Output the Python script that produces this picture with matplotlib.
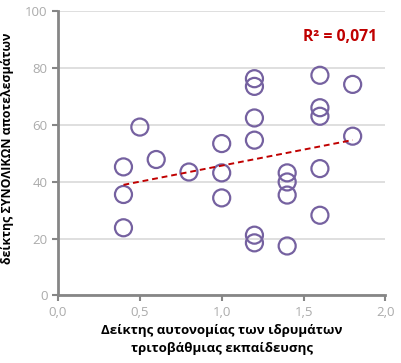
import numpy as np
import matplotlib
matplotlib.use("Agg")
import matplotlib.pyplot as plt

plt.rcParams['font.family'] = ['Open Sans', 'DejaVu Sans']

# autonomy index (x) and overall results index (y)
autonomy = [0.4, 0.4, 0.4, 0.5, 0.6, 0.8, 1.0, 1.0, 1.0,
            1.2, 1.2, 1.2, 1.2, 1.2, 1.2,
            1.4, 1.4, 1.4, 1.4,
            1.6, 1.6, 1.6, 1.6, 1.6,
            1.8, 1.8]
results = [45.2, 35.5, 23.8, 59.2, 47.8, 43.4, 53.4, 43.1, 34.3,
           76.2, 73.5, 62.4, 54.6, 21.2, 18.5,
           43.1, 39.9, 35.3, 17.4,
           77.4, 66.0, 63.0, 44.6, 28.2,
           74.2, 56.0]
r2_label = "R² = 0,071"

x_ticks = [0.0, 0.5, 1.0, 1.5, 2.0]
x_tick_labels = ["0,0", "0,5", "1,0", "1,5", "2,0"]
y_ticks = [0, 20, 40, 60, 80, 100]

fig = plt.figure(figsize=(4.01, 3.63), dpi=100)
ax = fig.add_axes([0.1446, 0.186, 0.8165, 0.7837])

ax.scatter(autonomy, results, s=150, facecolors='none', edgecolors='#7561a0', linewidths=1.6, zorder=3)

# linear trend line
slope, intercept = np.polyfit(autonomy, results, 1)
xs = np.array([min(autonomy), max(autonomy)])
ax.plot(xs, slope * xs + intercept, color='#c00000', lw=1.4, ls=(0, (3, 2)), zorder=4)

ax.text(1.947, 90.7, r2_label, color='#c00000', fontsize=11.3, fontweight='bold', ha='right', va='center')

ax.set_xlim(0, 2)
ax.set_ylim(0, 100)
ax.set_xticks(x_ticks)
ax.set_xticklabels(x_tick_labels)
ax.set_yticks(y_ticks)
ax.yaxis.grid(True, color='#d9d9d9', lw=1.2)
ax.set_axisbelow(True)

for s in ['top', 'right']:
    ax.spines[s].set_visible(False)
for s in ['left', 'bottom']:
    ax.spines[s].set_color('#868686')
    ax.spines[s].set_linewidth(2)
ax.tick_params(colors='#868686', labelcolor='#ababab', labelsize=9.5, width=1.5, length=4, direction='out')

ax.set_xlabel("Δείκτης αυτονομίας των ιδρυμάτων\nτριτοβάθμιας εκπαίδευσης", fontsize=9.5, fontweight='bold',
              labelpad=4, linespacing=1.45)
ax.set_ylabel("δείκτης ΣΥΝΟΛΙΚΩΝ αποτελεσμάτων", fontsize=8.9, fontweight='bold')
ax.yaxis.set_label_coords(-0.133, 0.517)

fig.savefig("out.png", dpi=100)
